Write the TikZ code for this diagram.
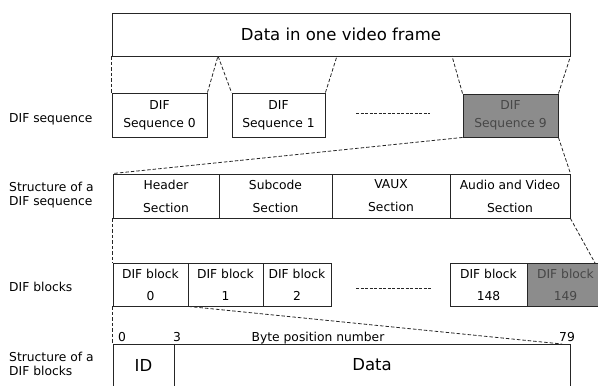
\documentclass[tikz,border=0pt]{standalone}
\usepackage{fontspec}
\setmainfont{DejaVu Sans}
\begin{document}
\begin{tikzpicture}[x=1pt,y=-1pt,
  box/.style={draw=black!85, line width=0.9pt, inner sep=0pt, align=center, font=\fontsize{12.3}{18}\selectfont},
  big/.style={font=\fontsize{16.5}{20}\selectfont},
  secfont/.style={font=\fontsize{12.3}{23}\selectfont},
  blkfont/.style={font=\fontsize{12.3}{22}\selectfont},
  shaded/.style={fill=black!45, text=black!72},
  con/.style={draw=black!85, line width=0.8pt, dash pattern=on 3.5pt off 2pt},
  dotline/.style={draw=black!85, line width=0.8pt, dash pattern=on 3pt off 1.5pt},
  lab/.style={anchor=west, align=left, inner sep=0pt, font=\fontsize{12.3}{14}\selectfont},
  num/.style={anchor=base, inner sep=0pt, font=\fontsize{12.3}{14}\selectfont}]
\useasboundingbox (0,0) rectangle (598,386);

% left labels
\node[lab] (l1) at (9,119) {DIF sequence};
\node[lab] (l2) at (9,195) {Structure of a\\DIF sequence};
\node[lab] (l3) at (9,287) {DIF blocks};
\node[lab] (l4) at (9,364) {Structure of a\\DIF blocks};

% top frame
\node[box, big, minimum width=458pt, minimum height=43pt] (frame) at (341,34.5) {Data in one video frame};
\coordinate (p1) at (218,56);
\coordinate (p2) at (337,56);
\coordinate (p3) at (452,56);

% DIF sequences
\node[box, minimum width=95pt, minimum height=44pt] (s0) at (159.5,115) {DIF\\Sequence 0};
\node[box, minimum width=93pt, minimum height=44pt] (s1) at (278.5,115) {DIF\\Sequence 1};
\node[box, shaded, minimum width=95pt, minimum height=43pt] (s9) at (510.5,115.5) {DIF\\Sequence 9};
\coordinate (d1a) at (356,113);
\coordinate (d1b) at (430,113);
\draw[dotline] (d1a) -- (d1b);

% structure of a DIF sequence
\node[box, secfont, minimum width=106pt, minimum height=44pt] (hdr) at (166,196) {Header\\Section};
\node[box, secfont, minimum width=113pt, minimum height=44pt] (sub) at (275.5,196) {Subcode\\Section};
\node[box, secfont, minimum width=118pt, minimum height=44pt] (vaux) at (391,196) {VAUX\\Section};
\node[box, secfont, minimum width=120pt, minimum height=44pt] (av) at (510,196) {Audio and Video\\Section};

% DIF blocks
\node[box, blkfont, minimum width=75pt, minimum height=43pt] (b0) at (150.5,284.5) {DIF block\\0};
\node[box, blkfont, minimum width=75pt, minimum height=43pt] (b1) at (225.5,284.5) {DIF block\\1};
\node[box, blkfont, minimum width=68pt, minimum height=43pt] (b2) at (297,284.5) {DIF block\\2};
\node[box, blkfont, minimum width=77pt, minimum height=43pt] (b148) at (488.5,284.5) {DIF block\\148};
\node[box, blkfont, shaded, minimum width=77pt, minimum height=43pt] (b149) at (565.5,284.5) {DIF block\\149};
\coordinate (d2a) at (356,288);
\coordinate (d2b) at (431,288);
\draw[dotline] (d2a) -- (d2b);
\coordinate (b149top) at (595,263);

% structure of a DIF block
\node[box, big, minimum width=61pt, minimum height=42pt] (id) at (143.5,365) {ID};
\node[box, big, minimum width=396pt, minimum height=42pt] (data) at (372,365) {Data};
\node[num] (n0) at (122,341.5) {0};
\node[num] (n3) at (177,341.5) {3};
\node[num] (nb) at (318,341.5) {Byte position number};
\node[num] (n79) at (567,341.5) {79};
\coordinate (dtop) at (562,344);

% connectors
\draw[con] (frame.south west) -- (s0.north west);
\draw[con] (s0.north east) -- (p1) -- (s1.north west);
\draw[con] (s1.north east) -- (p2);
\draw[con] (s9.north west) -- (p3);
\draw[con] (s9.north east) -- (frame.south east);
\draw[con] (s9.south west) -- (hdr.north west);
\draw[con] (s9.south east) -- (av.north east);
\draw[con] (hdr.south west) -- (b0.north west);
\draw[con] (av.south east) -- (b149top);
\draw[con] (b0.south west) -- (id.north west);
\draw[con] (b0.south east) -- (dtop);
\end{tikzpicture}
\end{document}
